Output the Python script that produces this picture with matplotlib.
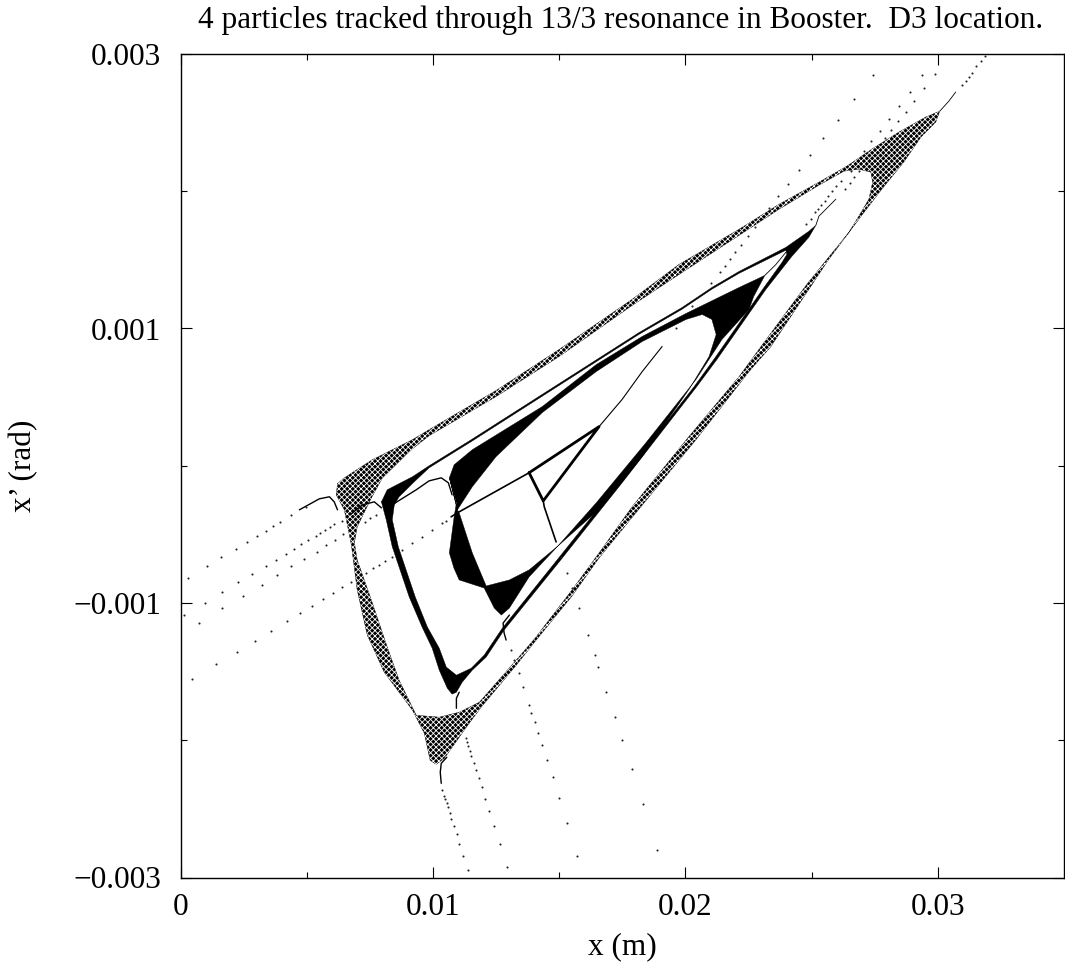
import numpy as np
import matplotlib
matplotlib.use("Agg")
import matplotlib.pyplot as plt

plt.rcParams['font.family'] = ['Liberation Serif', 'DejaVu Serif']
plt.rcParams['hatch.linewidth'] = 0.6

# everything below, x in mm, x' in mrad

# particle 1 (outer loop)
a_out_x = [6.22, 6.49, 7.60, 9.19, 9.85, 12.50, 15.00, 17.89, 19.75, 22.13, 23.71, 25.29, 26.40, 27.39, 28.46, 29.52, 30.08, 29.92, 29.33, 28.65, 27.78, 27.08, 25.68, 25.02, 23.39, 22.52, 20.42, 18.04, 16.58, 15.51, 14.09, 13.30, 11.91, 11.32, 10.45, 10.13, 9.89, 9.66, 9.19, 8.07, 7.40, 7.00, 6.77, 6.49, 6.17]
a_out_y = [-0.131, -0.088, 0.044, 0.190, 0.263, 0.548, 0.847, 1.212, 1.467, 1.723, 1.905, 2.066, 2.183, 2.307, 2.431, 2.540, 2.584, 2.504, 2.394, 2.212, 2.015, 1.847, 1.504, 1.321, 0.869, 0.686, 0.190, -0.343, -0.672, -0.949, -1.270, -1.453, -1.759, -1.905, -2.132, -2.175, -2.146, -1.949, -1.781, -1.504, -1.234, -0.905, -0.577, -0.321, -0.212]
a_in_x = [7.56, 8.00, 9.19, 9.85, 12.50, 15.00, 17.89, 19.75, 22.13, 23.71, 25.29, 26.28, 26.87, 27.35, 27.42, 27.27, 26.87, 26.48, 25.61, 24.81, 23.00, 22.13, 20.14, 17.89, 16.58, 15.51, 14.05, 13.30, 11.84, 11.04, 10.25, 9.34, 8.66, 8.19, 7.56, 7.00, 6.89, 7.00]
a_in_y = [-0.234, -0.088, 0.124, 0.219, 0.504, 0.796, 1.168, 1.394, 1.679, 1.869, 2.044, 2.146, 2.161, 2.139, 2.066, 1.942, 1.818, 1.701, 1.504, 1.321, 0.869, 0.650, 0.212, -0.299, -0.636, -0.905, -1.256, -1.416, -1.723, -1.796, -1.832, -1.818, -1.562, -1.321, -0.978, -0.686, -0.562, -0.445]

# particle 2
b_out_x = [7.96, 8.19, 9.19, 9.85, 11.52, 18.17, 19.87, 21.05, 22.13, 23.98, 24.89, 25.17, 24.89, 24.22, 23.19, 21.25, 20.42, 17.49, 15.00, 12.82, 12.11, 11.56, 11.16, 10.93, 10.76, 10.57, 10.25, 9.97, 9.57, 9.06, 8.39, 8.15]
b_out_y = [-0.263, -0.175, -0.080, 0.0, 0.190, 0.971, 1.153, 1.299, 1.416, 1.591, 1.708, 1.752, 1.664, 1.526, 1.285, 0.774, 0.569, -0.125, -0.701, -1.197, -1.394, -1.489, -1.577, -1.650, -1.664, -1.621, -1.489, -1.329, -1.175, -0.956, -0.591, -0.394]
b_in_x = [8.47, 8.66, 9.26, 9.85, 11.52, 18.17, 19.87, 21.05, 22.13, 23.98, 24.02, 23.83, 23.06, 21.18, 20.35, 17.42, 14.92, 12.75, 12.03, 11.52, 10.93, 10.53, 10.25, 9.78, 9.30, 8.63, 8.39]
b_in_y = [-0.285, -0.226, -0.117, -0.015, 0.176, 0.958, 1.140, 1.286, 1.402, 1.570, 1.540, 1.482, 1.285, 0.788, 0.577, -0.110, -0.686, -1.183, -1.380, -1.475, -1.526, -1.467, -1.329, -1.175, -0.956, -0.591, -0.394]

# particle 3
c_out_x = [10.65, 10.84, 11.56, 14.33, 16.47, 18.29, 20.03, 22.13, 23.15, 22.71, 22.52, 21.45, 20.42, 18.44, 16.47, 14.88, 13.81, 13.03, 12.71, 12.43, 12.03, 11.04, 10.83, 10.65, 10.84, 10.93]
c_out_y = [-0.088, 0.007, 0.117, 0.431, 0.737, 0.942, 1.110, 1.299, 1.387, 1.234, 1.139, 0.920, 0.628, 0.168, -0.270, -0.599, -0.810, -1.037, -1.088, -1.037, -0.891, -0.832, -0.745, -0.635, -0.372, -0.270]
c_in_x = [10.97, 11.56, 12.50, 14.33, 16.47, 18.29, 20.03, 20.67, 21.05, 21.22, 20.94, 20.14, 18.29, 16.70, 15.00, 13.81, 13.03, 12.11, 11.56, 11.04]
c_in_y = [-0.321, -0.153, 0.066, 0.387, 0.686, 0.905, 1.066, 1.102, 1.066, 0.956, 0.796, 0.555, 0.066, -0.299, -0.577, -0.759, -0.832, -0.876, -0.635, -0.343]

# particle 4 (inner triangle)
tri_x = [13.81, 16.58, 14.37, 13.81]
tri_y = [-0.051, 0.285, -0.256, -0.051]
spine_x = [10.72, 10.97, 13.81]
spine_y = [-0.372, -0.343, -0.051]
up_x = [16.58, 17.49, 18.29, 19.08]
up_y = [0.285, 0.482, 0.686, 0.869]
down_x = [14.37, 14.41, 14.88]
down_y = [-0.256, -0.299, -0.555]

# short solid bits where the tracks leave each loop
hump1_x = [4.71, 5.50, 5.90, 6.09, 6.22]
hump1_y = [-0.321, -0.241, -0.226, -0.263, -0.321]
hump2_x = [6.77, 7.20, 7.68, 7.96]
hump2_y = [-0.350, -0.285, -0.263, -0.307]
hump3_x = [8.19, 9.34, 9.85, 10.33, 10.61, 10.76]
hump3_y = [-0.307, -0.175, -0.110, -0.088, -0.124, -0.212]
tail_bot1_x = [10.55, 10.33, 10.29, 10.33]
tail_bot1_y = [-2.124, -2.168, -2.234, -2.314]
tail_bot2_x = [11.04, 10.93, 10.93]
tail_bot2_y = [-1.650, -1.694, -1.767]
tail_bot3_x = [13.03, 12.78, 12.82, 12.90]
tail_bot3_y = [-1.088, -1.146, -1.219, -1.270]
tail_top1_x = [30.08, 30.44, 30.71]
tail_top1_y = [2.584, 2.657, 2.723]
tail_top2_x = [25.17, 25.29, 25.96]
tail_top2_y = [1.752, 1.818, 1.942]
tail_top3_x = [23.15, 23.59, 23.98]
tail_top3_y = [1.387, 1.467, 1.555]

# single dots, left side
left1_x = [4.99, 4.39, 3.96, 3.68, 3.40, 3.05, 2.65, 2.18, 1.62, 1.03, 0.28]
left1_y = [-0.299, -0.358, -0.409, -0.438, -0.475, -0.511, -0.555, -0.606, -0.664, -0.730, -0.818]
left2_x = [6.41, 6.09, 5.94, 5.73, 5.54, 5.35, 5.07, 4.79, 4.48, 4.16, 3.80, 3.37, 2.85, 2.29, 1.66, 0.99, 0.12]
left2_y = [-0.402, -0.423, -0.445, -0.467, -0.489, -0.511, -0.540, -0.569, -0.606, -0.642, -0.686, -0.730, -0.788, -0.847, -0.920, -1.000, -1.088]
left3_x = [7.76, 7.52, 7.32, 6.45, 6.13, 5.78, 5.39, 4.91, 4.39, 3.84, 3.21, 2.49, 1.66, 0.72]
left3_y = [-0.358, -0.380, -0.409, -0.496, -0.540, -0.577, -0.628, -0.679, -0.730, -0.796, -0.869, -0.949, -1.037, -1.146]
left4_x = [10.53, 10.37, 9.97, 9.57, 9.19, 8.79, 8.39, 8.11, 7.88, 7.64, 7.36, 6.77, 6.41, 6.05, 5.66, 5.22, 4.75, 4.20, 3.60, 2.97, 2.25, 1.42, 0.47]
left4_y = [-0.402, -0.416, -0.467, -0.518, -0.562, -0.613, -0.664, -0.694, -0.723, -0.745, -0.781, -0.847, -0.883, -0.927, -0.971, -1.022, -1.073, -1.132, -1.205, -1.278, -1.358, -1.445, -1.555]

# single dots, bottom
bot1_x = [10.37, 10.45, 10.49, 10.57, 10.61, 10.69, 10.72, 10.84, 10.97, 11.04, 11.20, 11.40]
bot1_y = [-2.365, -2.409, -2.431, -2.460, -2.489, -2.533, -2.577, -2.628, -2.686, -2.759, -2.840, -2.942]
bot2_x = [11.32, 11.36, 11.40, 11.48, 11.52, 11.63, 11.72, 11.84, 11.95, 12.07, 12.23, 12.43, 12.67, 12.94]
bot2_y = [-1.986, -2.015, -2.044, -2.080, -2.117, -2.168, -2.219, -2.278, -2.343, -2.431, -2.519, -2.628, -2.759, -2.920]
bot3_x = [13.10, 13.22, 13.42, 13.58, 13.81, 13.90, 14.05, 14.17, 14.33, 14.52, 14.77, 15.00, 15.32, 15.71]
bot3_y = [-1.343, -1.416, -1.511, -1.613, -1.745, -1.803, -1.869, -1.949, -2.037, -2.146, -2.270, -2.424, -2.606, -2.840]
bot4_x = [15.08, 15.32, 15.51, 15.79, 16.15, 16.43, 16.55, 16.86, 17.21, 17.49, 17.89, 18.33, 18.88]
bot4_y = [-0.664, -0.781, -0.891, -1.037, -1.234, -1.380, -1.467, -1.650, -1.832, -2.000, -2.212, -2.467, -2.803]

# single dots, top right
top1_x = [30.95, 31.11, 31.22, 31.35, 31.50, 31.70, 31.86]
top1_y = [2.774, 2.803, 2.832, 2.862, 2.913, 2.949, 2.986]
top2_x = [26.32, 26.52, 26.68, 26.87, 27.91, 28.14, 28.42, 28.73, 29.05, 29.45, 29.88]
top2_y = [2.015, 2.059, 2.102, 2.146, 2.387, 2.446, 2.511, 2.577, 2.657, 2.752, 2.854]
top3_x = [24.77, 24.98, 25.13, 25.25, 25.37, 25.53, 25.64, 25.81, 25.96, 26.16, 26.55, 27.08, 27.35, 27.70, 28.06, 28.46, 28.89, 29.37]
top3_y = [1.759, 1.796, 1.847, 1.869, 1.898, 1.927, 1.964, 2.000, 2.037, 2.073, 2.146, 2.292, 2.365, 2.438, 2.526, 2.621, 2.723, 2.847]
top4_x = [19.63, 20.27, 21.01, 21.37, 21.57, 21.77, 21.97, 22.20, 22.48, 22.75, 23.31, 23.67, 24.07, 24.50, 24.94, 25.45, 26.04, 26.68, 27.42]
top4_y = [1.007, 1.161, 1.329, 1.409, 1.453, 1.504, 1.555, 1.606, 1.672, 1.737, 1.876, 1.964, 2.051, 2.154, 2.263, 2.387, 2.519, 2.672, 2.847]

x_major = [0, 0.01, 0.02, 0.03]
x_major_labels = ["0", "0.01", "0.02", "0.03"]
x_minor = [0.005, 0.015, 0.025]
y_major = [-0.003, -0.001, 0.001, 0.003]
y_major_labels = ["\u22120.003", "\u22120.001", "0.001", "0.003"]
y_minor = [-0.002, 0, 0.002]


def draw_band(x_out, y_out, x_in, y_in, speckle=False):
    # ring made of the outer edge and the reversed inner edge
    x = np.array(x_out + x_out[:1] + x_in + x_in[:1]) * 1e-3
    y = np.array(y_out + y_out[:1] + y_in + y_in[:1]) * 1e-3
    n = len(x_out) + 1
    x = np.concatenate([x[:n], x[n:][::-1]])
    y = np.concatenate([y[:n], y[n:][::-1]])
    ax.fill(x, y, color="black", lw=0.3)
    if speckle:
        ax.fill(x, y, facecolor="none", edgecolor="white", hatch="xxxxxx", lw=0)


def draw_line(x, y, lw=1.0):
    ax.plot(np.array(x) * 1e-3, np.array(y) * 1e-3, color="black", lw=lw, solid_capstyle="round")


def draw_dots(x, y):
    ax.plot(np.array(x) * 1e-3, np.array(y) * 1e-3, ls="none", marker="o", ms=1.5, mew=0, color="#222222")


fig = plt.figure(figsize=(10.65, 9.63), dpi=100)
ax = fig.add_axes([180.5 / 1065, (963 - 877.5) / 963, 883.5 / 1065, 823.5 / 963])

draw_band(a_out_x, a_out_y, a_in_x, a_in_y, speckle=True)
draw_band(b_out_x, b_out_y, b_in_x, b_in_y)
draw_band(c_out_x, c_out_y, c_in_x, c_in_y)

draw_line(tri_x, tri_y, lw=2.0)
draw_line(spine_x, spine_y, lw=1.2)
draw_line(up_x, up_y, lw=0.8)
draw_line(down_x, down_y, lw=1.2)

for hx, hy in [(hump1_x, hump1_y), (hump2_x, hump2_y), (hump3_x, hump3_y),
               (tail_bot1_x, tail_bot1_y), (tail_bot2_x, tail_bot2_y), (tail_bot3_x, tail_bot3_y)]:
    draw_line(hx, hy, lw=1.0)
for hx, hy in [(tail_top1_x, tail_top1_y), (tail_top2_x, tail_top2_y), (tail_top3_x, tail_top3_y)]:
    draw_line(hx, hy, lw=0.6)

for dx, dy in [(left1_x, left1_y), (left2_x, left2_y), (left3_x, left3_y), (left4_x, left4_y),
               (bot1_x, bot1_y), (bot2_x, bot2_y), (bot3_x, bot3_y), (bot4_x, bot4_y),
               (top1_x, top1_y), (top2_x, top2_y), (top3_x, top3_y), (top4_x, top4_y)]:
    draw_dots(dx, dy)

ax.set_xlim(0, 0.035)
ax.set_ylim(-0.003, 0.003)
ax.set_xticks(x_major)
ax.set_xticklabels(x_major_labels)
ax.set_xticks(x_minor, minor=True)
ax.set_yticks(y_major)
ax.set_yticklabels(y_major_labels)
ax.set_yticks(y_minor, minor=True)
ax.tick_params(which="major", direction="in", length=8, width=0.8, top=True, right=True, labelsize=22.5)
ax.tick_params(which="minor", direction="in", length=4, width=0.8, top=True, right=True)
ax.tick_params(axis="x", which="major", pad=11)
ax.tick_params(axis="y", which="major", pad=14)
for s in ax.spines.values():
    s.set_linewidth(1.0)

fig.text(621 / 1065, 1 - 20 / 963, "4 particles tracked through 13/3 resonance in Booster.  D3 location.",
         ha="center", va="center", fontsize=22.5)
fig.text(622 / 1065, 1 - 947 / 963, "x (m)", ha="center", va="center", fontsize=22.5)
fig.text(24 / 1065, 1 - 466 / 963, "x\u2019 (rad)", ha="center", va="center", rotation=90, fontsize=22.5)

fig.savefig("out.png", dpi=100)
